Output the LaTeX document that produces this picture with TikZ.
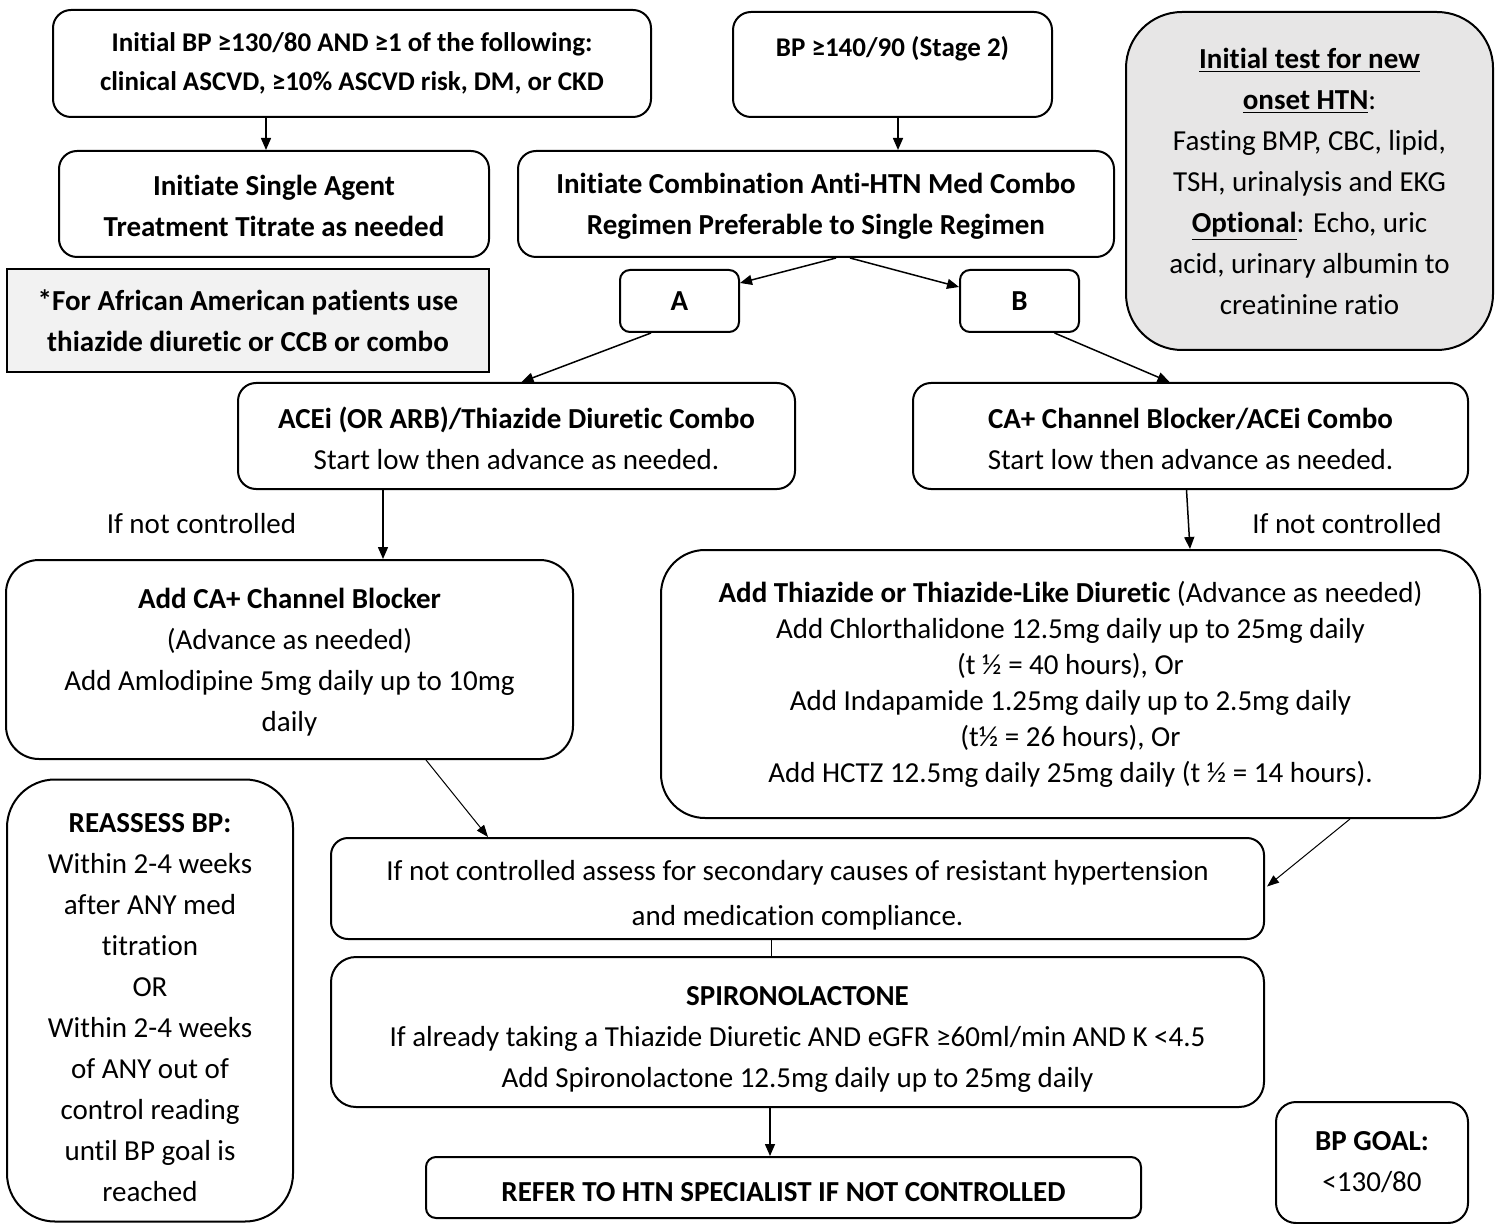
\documentclass[tikz,border=0pt]{standalone}
\usepackage{fontspec}
\setmainfont{Carlito}[Ligatures={TeX,NoCommon}]
\usetikzlibrary{arrows.meta,calc}
\definecolor{testgray}{HTML}{E7E6E6}
\definecolor{notegray}{HTML}{F2F2F2}
\newcommand{\bodysize}{\fontsize{14.5}{20.5}\selectfont}
\newcommand{\topgap}[1]{\rule{0pt}{#1}}
\tikzset{
  every picture/.style={line width=0.75pt},
  box/.style={draw, line width=1pt, align=center, inner sep=0pt, font=\bodysize},
  arr/.style={-{Triangle[length=6pt,width=5pt]}},
  slimarr/.style={-{Triangle[length=6pt,width=4.5pt]}, line width=0.5pt},
}

\begin{document}
\begin{tikzpicture}[x=0.5pt,y=-0.5pt]
  \useasboundingbox (0,0) rectangle (1497,1224);

  % --- top row ---
  \node[box, rounded corners=9pt, minimum width=299pt, minimum height=53.5pt,
        font=\fontsize{13.5}{19.5}\selectfont\bfseries] (init) at (352,63.5)
    {Initial BP ≥130/80 AND ≥1 of the following:\\clinical ASCVD, ≥10\% ASCVD risk, DM, or CKD};
  \node[box, rounded corners=9pt, minimum width=159.5pt, minimum height=52.5pt,
        font=\fontsize{13.5}{13.5}\selectfont\bfseries] (stagetwo) at (892.5,64.5)
    {BP ≥140/90 (Stage 2)\\\strut};
  \node[box, rounded corners=28pt, fill=testgray, minimum width=183.5pt, minimum height=169pt] (tests) at (1309.5,181)
    {\underline{\textbf{Initial test for new}}\\\underline{\textbf{onset HTN}}:\\Fasting BMP, CBC, lipid,\\TSH, urinalysis and EKG\\
     \underline{\textbf{Optional}}: Echo, uric\\acid, urinary albumin to\\creatinine ratio};

  % --- treatment start ---
  \node[box, rounded corners=9pt, minimum width=215pt, minimum height=53pt, font=\bodysize\bfseries] (single) at (274,204)
    {\topgap{12pt}Initiate Single Agent\\Treatment Titrate as needed};
  \node[box, rounded corners=9pt, minimum width=298pt, minimum height=53pt, font=\bodysize\bfseries] (combo) at (816,204)
    {\topgap{12pt}Initiate Combination Anti-HTN Med Combo\\Regimen Preferable to Single Regimen};
  \node[box, fill=notegray, minimum width=241pt, minimum height=51.5pt, font=\bodysize\bfseries] (aanote) at (248,320.5)
    {*For African American patients use\\thiazide diuretic or CCB or combo};
  \node[box, rounded corners=5pt, minimum width=59.5pt, minimum height=31pt, font=\bodysize\bfseries] (A) at (679.5,301) {A};
  \node[box, rounded corners=5pt, minimum width=59.5pt, minimum height=31pt, font=\bodysize\bfseries] (B) at (1019.5,301) {B};

  % --- combos ---
  \node[box, rounded corners=9pt, minimum width=278.5pt, minimum height=53pt] (acei) at (516.5,436)
    {\topgap{13pt}\textbf{ACEi (OR ARB)/Thiazide Diuretic Combo}\\Start low then advance as needed.};
  \node[box, rounded corners=9pt, minimum width=277.5pt, minimum height=53pt] (ccb) at (1190.5,436)
    {\topgap{13pt}\textbf{CA+ Channel Blocker/ACEi Combo}\\Start low then advance as needed.};
  \foreach \x/\nm in {201.5/ncleft, 1347/ncright}
    \node[font=\bodysize] (\nm) at (\x,524) {If not controlled};

  % --- add-on drugs ---
  \node[box, rounded corners=16.5pt, minimum width=283.5pt, minimum height=99.5pt] (addccb) at (289.5,659.5)
    {\topgap{13pt}\textbf{Add CA+ Channel Blocker}\\(Advance as needed)\\Add Amlodipine 5mg daily up to 10mg\\daily};
  \node[box, rounded corners=22pt, minimum width=409.5pt, minimum height=134pt,
        font=\fontsize{14.5}{18}\selectfont] (addthz) at (1070.5,684)
    {\textbf{Add Thiazide or Thiazide-Like Diuretic} (Advance as needed)\\
     Add Chlorthalidone 12.5mg daily up to 25mg daily\\(t ½ = 40 hours), Or\\
     Add Indapamide 1.25mg daily up to 2.5mg daily\\(t½ = 26 hours), Or\\
     Add HCTZ 12.5mg daily 25mg daily (t ½ = 14 hours).};

  % --- bottom ---
  \node[box, rounded corners=24pt, minimum width=143pt, minimum height=221pt] (reassess) at (150,1000.5)
    {\topgap{16.5pt}\textbf{REASSESS BP:}\\Within 2-4 weeks\\after ANY med\\titration\\OR\\Within 2-4 weeks\\of ANY out of\\
     control reading\\until BP goal is\\reached};
  \node[box, rounded corners=8.5pt, minimum width=466.5pt, minimum height=50.5pt,
        font=\fontsize{14.5}{22.5}\selectfont] (assess) at (797.5,888.5)
    {\topgap{16.5pt}If not controlled assess for secondary causes of resistant hypertension\\and medication compliance.};
  \node[box, rounded corners=12.5pt, minimum width=466.5pt, minimum height=75pt] (spiro) at (797.5,1032)
    {\topgap{16.5pt}\textbf{SPIRONOLACTONE}\\If already taking a Thiazide Diuretic AND eGFR ≥60ml/min AND K <4.5\\
     Add Spironolactone 12.5mg daily up to 25mg daily};
  \node[box, rounded corners=5pt, minimum width=357.5pt, minimum height=30.5pt, font=\bodysize\bfseries] (refer) at (783.5,1187.5)
    {\topgap{14pt}REFER TO HTN SPECIALIST IF NOT CONTROLLED};
  \node[box, rounded corners=10pt, minimum width=96pt, minimum height=60.5pt] (goal) at (1372,1162.5)
    {\textbf{BP GOAL:}\\<130/80};

  % --- connectors ---
  \draw[arr] ($(init.south)+(-86,0)$) -- ($(single.north)+(-8,0)$);
  \draw[arr] ($(stagetwo.south)+(5.5,0)$) -- ($(combo.north)+(82,0)$);
  \draw[arr] ($(combo.south)+(20,0)$) -- ($(A.east)+(0,-18)$);
  \draw[arr] ($(combo.south)+(34,0)$) -- ($(B.west)+(0,-14)$);
  \draw[arr] ($(A.south)+(-28.5,0)$) -- ($(acei.north)+(5,0)$);
  \draw[arr] ($(B.south)+(35,0)$) -- ($(ccb.north)+(-21,0)$);
  \draw[arr] ($(acei.south)+(-133.5,0)$) -- ($(addccb.north)+(93.5,0)$);
  \draw[arr] ($(ccb.south)+(-4,0)$) -- ($(addthz.north)+(119.5,0)$);
  \draw[slimarr] ($(addccb.south)+(136.5,0)$) -- ($(assess.north)+(-309.5,0)$);
  \draw[slimarr] ($(addthz.south)+(279.5,0)$) -- ($(assess.east)+(2,-2)$);
  \draw[line width=0.5pt] ($(assess.south)+(-26.5,0)$) -- ($(spiro.north)+(-26.5,0)$);
  \draw[arr] ($(spiro.south)+(-27.5,0)$) -- ($(refer.north)+(-13.5,0)$);
\end{tikzpicture}
\end{document}
